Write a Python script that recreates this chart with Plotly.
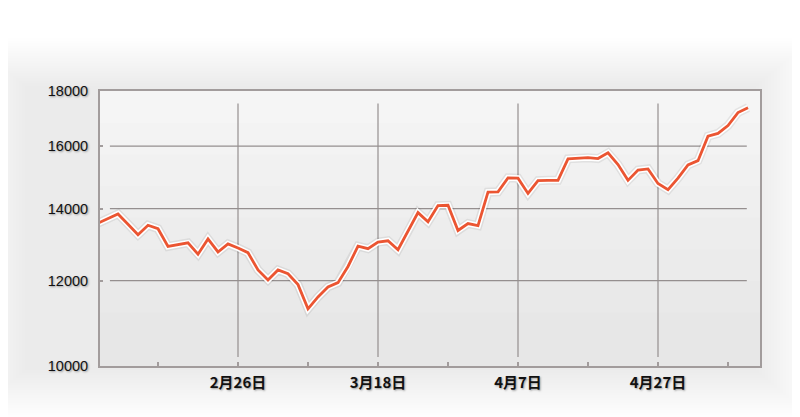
import pandas as pd
import plotly.graph_objects as go

# Trading days (weekdays) shown on the chart
dates = [d.strftime("%Y-%m-%d") for d in pd.bdate_range("2015-02-06", periods=66)]

# Index values
values = [
    13570, 13700, 13840, 13540, 13240, 13510, 13410, 12910, 12960, 13010,
    12700, 13120, 12760, 12980, 12870, 12740, 12280, 12020, 12280, 12180,
    11900, 11300, 11590, 11840, 11950, 12370, 12920, 12850, 13030, 13070,
    12820, 13330, 13880, 13610, 14090, 14100, 13360, 13560, 13500, 14500,
    14510, 14950, 14940, 14460, 14860, 14870, 14870, 15570, 15600, 15610,
    15580, 15770, 15380, 14870, 15200, 15240, 14770, 14580, 14940, 15370,
    15510, 16340, 16440, 16720, 17190, 17370,
]

# Axis ticks
y_ticks = [10000, 12000, 14000, 16000, 18000]
x_label_dates = ["2015-02-26", "2015-03-18", "2015-04-07", "2015-04-27"]
x_label_text = ["2月26日", "3月18日", "4月7日", "4月27日"]
x_minor_dates = ["2015-02-16", "2015-03-09", "2015-03-27", "2015-04-16", "2015-05-06"]

LINE = "#eb5532"
FRAME = "#a29c9c"
GRID = "#958f8f"

fig = go.Figure()

fig.add_trace(go.Scatter(x=dates, y=values, mode="lines",
                         line=dict(color="rgba(0,0,0,0.07)", width=9),
                         hoverinfo="skip", showlegend=False))
fig.add_trace(go.Scatter(x=dates, y=values, mode="lines",
                         line=dict(color="white", width=6),
                         hoverinfo="skip", showlegend=False))
fig.add_trace(go.Scatter(x=dates, y=values, mode="lines",
                         line=dict(color=LINE, width=2.8),
                         showlegend=False))

W, H = 792, 409
ML, MR, MT, MB = 92, 40, 83, 51
pw, ph = W - ML - MR, H - MT - MB


def px_x(p):
    return (p - ML) / pw


def px_y(p):
    return 1 - (p - MT) / ph


shapes = []
# soft gray card with blurred edges
for k in range(20):
    shapes.append(dict(type="rect", xref="paper", yref="paper", layer="below",
                       x0=px_x(-40 + 3 * k), x1=px_x(805 - 3 * k),
                       y0=px_y(410 - 2.5 * k), y1=px_y(30 + 2.5 * k),
                       fillcolor="rgba(0,0,0,0.0047)", line=dict(width=0)))
# plot area base
shapes.append(dict(type="rect", xref="paper", yref="paper", layer="below",
                   x0=0, x1=1, y0=0, y1=1,
                   fillcolor="#f7f7f7", line=dict(width=0)))
# vertical gradient inside the plot area (darker toward the bottom)
for k in range(8):
    shapes.append(dict(type="rect", xref="paper", yref="paper", layer="below",
                       x0=0, x1=1, y0=0, y1=1 - k * 0.115,
                       fillcolor="rgba(0,0,0,0.006)", line=dict(width=0)))
# inset horizontal grid lines
for v in y_ticks[1:-1]:
    shapes.append(dict(type="line", xref="paper", yref="y", layer="below",
                       x0=0.015, x1=0.98, y0=v, y1=v,
                       line=dict(color=GRID, width=1.2)))
# inset vertical grid lines
for d in x_label_dates:
    shapes.append(dict(type="line", xref="x", yref="paper", layer="below",
                       x0=d, x1=d, y0=0.033, y1=0.955,
                       line=dict(color=GRID, width=1.2)))

fig.update_layout(
    width=W, height=H,
    margin=dict(l=ML, r=MR, t=MT, b=MB),
    paper_bgcolor="#ffffff",
    plot_bgcolor="#f7f7f7",
    shapes=shapes,
    showlegend=False,
    xaxis=dict(
        type="category",
        categoryorder="array", categoryarray=dates,
        range=[0.2, 66.2],
        tickmode="array",
        tickvals=x_label_dates + x_minor_dates,
        ticktext=x_label_text + [""] * len(x_minor_dates),
        ticks="inside", ticklen=4, tickwidth=2, tickcolor=FRAME,
        showgrid=False, zeroline=False,
        showline=True, mirror=True, linecolor=FRAME, linewidth=2,
        tickfont=dict(family="Noto Sans CJK JP, sans-serif", size=15, color="#111111",
                      weight="bold", shadow="1px 1px 2px rgba(0,0,0,0.35)"),
        ticklabelstandoff=2,
    ),
    yaxis=dict(
        type="log",
        range=[4, 4.25527],
        tickmode="array",
        tickvals=y_ticks,
        ticktext=[str(v) for v in y_ticks],
        ticks="inside", ticklen=3, tickwidth=2, tickcolor=FRAME,
        showgrid=False, zeroline=False,
        showline=True, mirror=True, linecolor=FRAME, linewidth=2,
        tickfont=dict(family="Liberation Sans, Arial, sans-serif", size=14.5,
                      color="#111111", shadow="1px 1px 2px rgba(0,0,0,0.35)"),
        ticklabelstandoff=7,
    ),
)

fig.write_html("out.html")
